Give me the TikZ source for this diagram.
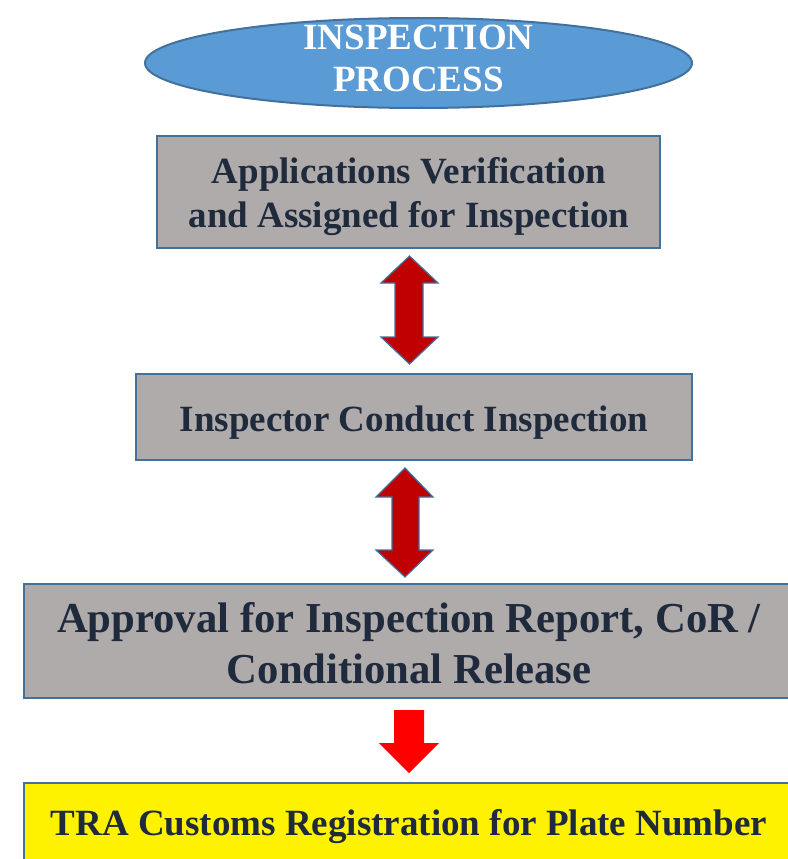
\documentclass[tikz,border=0pt]{standalone}
\usepackage{fontspec}
\setmainfont{Liberation Serif}
\usetikzlibrary{shapes.geometric}
\definecolor{ellfill}{HTML}{5B9BD5}
\definecolor{ellline}{HTML}{41719C}
\definecolor{boxgray}{HTML}{AFABAB}
\definecolor{boxline}{HTML}{41719C}
\definecolor{txt}{HTML}{1F2A3C}
\definecolor{arrred}{HTML}{C00000}
\tikzset{
  procbox/.style={draw=boxline, line width=2.2pt, fill=boxgray},
  boxtext/.style={text=txt, font=\fontsize{37}{44}\selectfont\bfseries, anchor=base, inner sep=0pt},
  bigtext/.style={text=txt, font=\fontsize{42.7}{50}\selectfont\bfseries, anchor=base, inner sep=0pt},
  titletext/.style={text=white, font=\fontsize{37}{42}\selectfont\bfseries, anchor=base, inner sep=0pt},
  dblarrow/.style={draw=ellline, line width=1.2pt, fill=arrred, line join=miter},
}
\begin{document}
\begin{tikzpicture}[x=1pt,y=-1pt]
\useasboundingbox (0,0) rectangle (787,859);
% ellipse
\node[ellipse, draw=ellline, line width=2pt, fill=ellfill, minimum width=547pt, minimum height=90pt, inner sep=0pt] (title) at (418.5,63) {};
\node[titletext] (t1) at (418.5,50) {INSPECTION};
\node[titletext] (t2) at (418.5,92) {PROCESS};
% box 1
\draw[procbox] (157,136) rectangle (660,248);
\node[boxtext] (b1a) at (409,183) {Applications Verification};
\node[boxtext] (b1b) at (409,227) {and Assigned for Inspection};
% box 2
\draw[procbox] (136,374) rectangle (692,460);
\node[boxtext] (b2) at (414,431) {Inspector Conduct Inspection};
% box 3
\draw[procbox] (24,584) rectangle (800,698);
\node[bigtext] (b3a) at (409,632) {Approval for Inspection Report, CoR /};
\node[bigtext] (b3b) at (409,683) {Conditional Release};
% box 4
\draw[procbox, fill=yellow] (24,783) rectangle (800,880);
\node[boxtext] (b4) at (409,835) {TRA Customs Registration for Plate Number};
% double arrow 1
\draw[dblarrow] (409.5,256) -- (438,283) -- (423,283) -- (423,337) -- (438,337) -- (409.5,364) -- (381,337) -- (395,337) -- (395,283) -- (381,283) -- cycle;
% double arrow 2
\draw[dblarrow] (405,468) -- (433,497) -- (419,497) -- (419,550) -- (433,550) -- (405,577) -- (376,550) -- (392,550) -- (392,497) -- (376,497) -- cycle;
% red arrow
\fill[red] (394,710) -- (424,710) -- (424,743) -- (439,743) -- (409,773) -- (379,743) -- (394,743) -- cycle;
\end{tikzpicture}
\end{document}
